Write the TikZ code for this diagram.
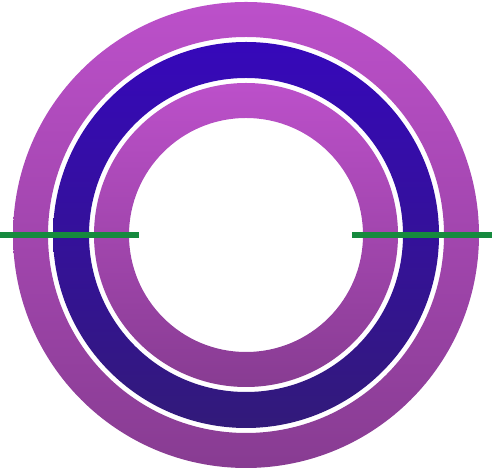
\documentclass[tikz,border=0pt]{standalone}
\usetikzlibrary{calc}
\definecolor{ringTop}{RGB}{188,80,202}
\definecolor{ringBottom}{RGB}{136,60,146}
\definecolor{bandTop}{RGB}{54,8,186}
\definecolor{bandBottom}{RGB}{50,26,122}
\definecolor{wireGreen}{RGB}{22,138,62}
\tikzset{
  outerring/.style={top color=ringTop, bottom color=ringBottom, even odd rule},
  bandring/.style={top color=bandTop, bottom color=bandBottom, even odd rule},
  wire/.style={draw=wireGreen, line width=6pt}
}
\begin{document}
\begin{tikzpicture}[x=1pt, y=1pt]
  \useasboundingbox (0,0) rectangle (492,470);
  \coordinate (o) at (246,235);
  % rings
  \path[outerring] (o) circle (233) (o) circle (198);
  \path[bandring]  (o) circle (193) (o) circle (157);
  \path[outerring] (o) circle (152) (o) circle (117);
  % wires
  \coordinate (wl1) at (0,235);
  \coordinate (wl2) at (139,235);
  \coordinate (wr1) at (352,235);
  \coordinate (wr2) at (492,235);
  \draw[wire] (wl1) -- (wl2);
  \draw[wire] (wr1) -- (wr2);
\end{tikzpicture}
\end{document}
